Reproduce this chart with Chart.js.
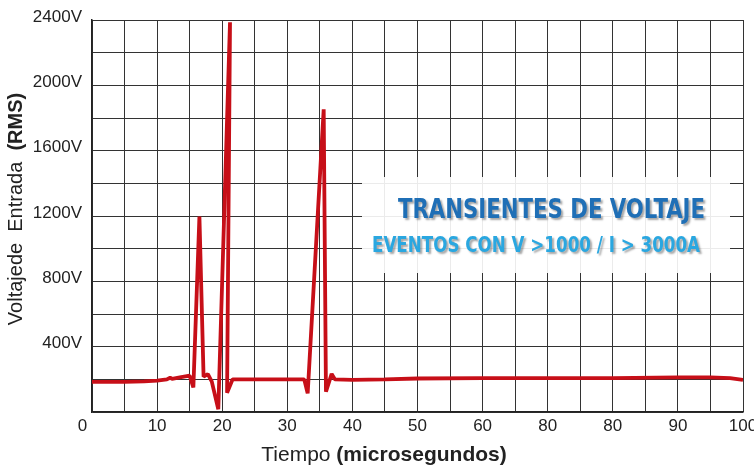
<!DOCTYPE html>
<html>
<head>
<meta charset="utf-8">
<script src="https://cdn.jsdelivr.net/npm/chart.js@4/dist/chart.umd.min.js"></script>
<style>
    body { margin: 0; background: #fff; }
    #wrap { width: 754px; height: 467px; }
</style>
</head>
<body>
<div id="wrap"><canvas id="transientChart" width="754" height="467"></canvas></div>
<script>
// Datos
const timeUs = [0, 5, 8, 10, 11.5, 12, 12.3, 13.5, 15, 15.57, 16.5, 17.14, 17.8, 18.4, 19.4, 21.2, 20.75, 21.6,
    25, 30, 32.6, 33.13, 35.59, 35.94, 36.81, 37.3, 40, 45, 50, 60, 70, 80, 90, 95, 98, 100];
const voltage = [185, 185, 187, 192, 200, 210, 203, 212, 222, 150, 1196, 216, 232, 186, 17, 2386, 118, 200,
    200, 200, 200, 114, 1853, 124, 233, 200, 197, 200, 205, 208, 208, 208, 212, 212, 208, 196];

const xTickValues = [0, 10, 20, 30, 40, 50, 60, 70, 80, 90, 100];
const xTickLabels = ['0', '10', '20', '30', '40', '50', '60', '80', '80', '90', '100'];
const yTickValues = [400, 800, 1200, 1600, 2000, 2400];
const yTickLabels = ['400V', '800V', '1200V', '1600V', '2000V', '2400V'];

const chartTitle = 'TRANSIENTES DE VOLTAJE';
const chartSubtitle = 'EVENTOS CON V >1000 / I > 3000A';

// Texte avec parties normales / grasses
function drawMixed(ctx, parts, size, cx, baseY) {
    let total = 0;
    parts.forEach(p => {
        ctx.font = (p.bold ? 'bold ' : '') + size + 'px "Liberation Sans", Arial, sans-serif';
        p.w = ctx.measureText(p.text).width;
        total += p.w;
    });
    let x = cx - total / 2;
    parts.forEach(p => {
        ctx.font = (p.bold ? 'bold ' : '') + size + 'px "Liberation Sans", Arial, sans-serif';
        ctx.fillText(p.text, x, baseY);
        x += p.w;
    });
}

function drawFitted(ctx, text, font, color, left, right, baseY) {
    ctx.font = font;
    const w = ctx.measureText(text).width;
    ctx.save();
    ctx.translate(left, baseY);
    ctx.scale((right - left) / w, 1);
    ctx.fillStyle = color;
    ctx.shadowColor = 'rgba(0,0,0,0.35)';
    ctx.shadowOffsetX = 2;
    ctx.shadowOffsetY = 2;
    ctx.shadowBlur = 2;
    ctx.textAlign = 'left';
    ctx.textBaseline = 'alphabetic';
    ctx.fillText(text, 0, 0);
    ctx.restore();
}

const overlayPlugin = {
    id: 'overlay',
    beforeDatasetsDraw(chart) {
        const ctx = chart.ctx;
        ctx.save();
        ctx.fillStyle = 'rgba(255,255,255,0.9)';
        ctx.fillRect(362, 177, 368, 96);
        ctx.restore();
    },
    afterDraw(chart) {
        const ctx = chart.ctx;
        ctx.save();
        ctx.fillStyle = '#222';
        ctx.textAlign = 'left';
        ctx.textBaseline = 'alphabetic';
        // titre axe X
        drawMixed(ctx, [{text: 'Tiempo ', bold: false}, {text: '(microsegundos)', bold: true}], 21, 384, 461);
        // titre axe Y
        ctx.save();
        ctx.translate(22, 209);
        ctx.rotate(-Math.PI / 2);
        drawMixed(ctx, [{text: 'Voltajede  Entrada  ', bold: false}, {text: '(RMS)', bold: true}], 20, 0, 0);
        ctx.restore();
        ctx.restore();

        const condensed = '"Liberation Sans Narrow", "DejaVu Sans Condensed", "Liberation Sans", sans-serif';
        drawFitted(ctx, chartTitle, 'bold 27px ' + condensed, '#1f6fb6', 398, 705, 218);
        drawFitted(ctx, chartSubtitle, 'bold 21px ' + condensed, '#2aa7e0', 372, 700, 252);
    }
};

const tickFont = { family: '"Liberation Sans", Arial, sans-serif', size: 17 };

new Chart(document.getElementById('transientChart'), {
    type: 'line',
    data: {
        datasets: [{
            data: timeUs.map((t, i) => ({ x: t, y: voltage[i] })),
            borderColor: '#c70f18',
            borderWidth: 3.8,
            borderJoinStyle: 'bevel',
            pointRadius: 0,
            tension: 0,
            fill: false
        }]
    },
    options: {
        responsive: false,
        animation: false,
        layout: {
            autoPadding: false,
            padding: { left: 0, right: 11, top: 20, bottom: 0 }
        },
        plugins: {
            legend: { display: false },
            tooltip: { enabled: false }
        },
        scales: {
            x: {
                type: 'linear',
                min: 0,
                max: 100,
                afterFit: s => {
                    s.height = 55;
                    s.paddingLeft = 0;
                    s.paddingRight = 0;
                },
                grid: { color: '#333', lineWidth: 1, drawTicks: false },
                border: { color: '#222', width: 1.5 },
                ticks: {
                    stepSize: 5,
                    autoSkip: false,
                    maxRotation: 0,
                    padding: 4,
                    color: '#222',
                    font: tickFont,
                    callback: v => {
                        const i = xTickValues.indexOf(v);
                        if (i < 0) return '';
                        return i === 0 ? xTickLabels[i] + '\u2007\u2007' : xTickLabels[i];
                    }
                }
            },
            y: {
                min: 0,
                max: 2400,
                afterFit: s => {
                    s.width = 92;
                    s.paddingTop = 0;
                    s.paddingBottom = 0;
                },
                grid: { color: '#333', lineWidth: 1, drawTicks: false },
                border: { color: '#222', width: 1.5 },
                ticks: {
                    stepSize: 200,
                    autoSkip: false,
                    padding: 10,
                    labelOffset: -3,
                    color: '#222',
                    font: tickFont,
                    callback: v => {
                        const i = yTickValues.indexOf(v);
                        return i < 0 ? '' : yTickLabels[i];
                    }
                }
            }
        }
    },
    plugins: [overlayPlugin]
});
</script>
</body>
</html>
